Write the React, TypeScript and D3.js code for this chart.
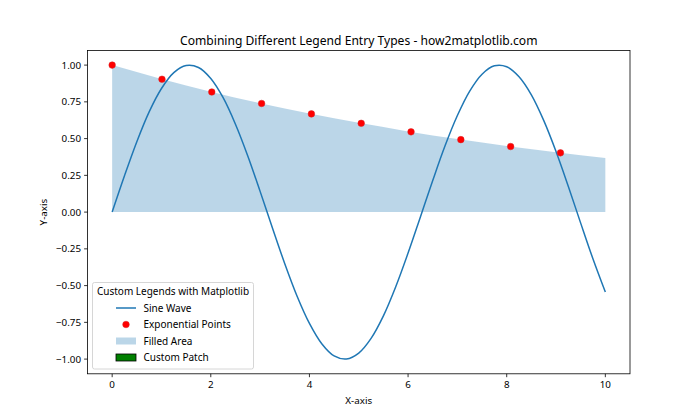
import React from "react";
import * as d3 from "d3";

const sineX = [0,0.25,0.5,0.75,1,1.25,1.5,1.75,2,2.25,2.5,2.75,3,3.25,3.5,3.75,4,4.25,4.5,4.75,5,5.25,5.5,5.75,6,6.25,6.5,6.75,7,7.25,7.5,7.75,8,8.25,8.5,8.75,9,9.25,9.5,9.75,10];
const sineY = [0,0.247,0.479,0.682,0.841,0.949,0.997,0.984,0.909,0.778,0.598,0.382,0.141,-0.108,-0.351,-0.572,-0.757,-0.895,-0.978,-0.999,-0.959,-0.859,-0.706,-0.508,-0.279,-0.033,0.215,0.451,0.657,0.823,0.938,0.995,0.989,0.921,0.798,0.624,0.412,0.174,-0.075,-0.319,-0.544];

const fillX = [0,1,2,3,4,5,6,7,8,9,10];
const fillY = [1,0.905,0.819,0.741,0.670,0.607,0.549,0.497,0.449,0.407,0.368];

const pointX = [0,1.01,2.02,3.03,4.04,5.05,6.06,7.07,8.08,9.09];
const pointY = [1,0.904,0.817,0.739,0.668,0.604,0.546,0.493,0.446,0.403];

const xTicks = [0,2,4,6,8,10];
const yTicks = [-1,-0.75,-0.5,-0.25,0,0.25,0.5,0.75,1];

const legendLabels = ["Sine Wave","Exponential Points","Filled Area","Custom Patch"];

const W = 700, H = 420;
const L = 87.5, R = 630, T = 50.4, B = 373.8;
const FONT = "'Noto Sans', sans-serif";
const BLUE = "#1f77b4";

export default function App() {
  const x = d3.scaleLinear().domain([-0.5, 10.5]).range([L, R]);
  const y = d3.scaleLinear().domain([-1.1, 1.1]).range([B, T]);
  const line = d3.line<number>().x((_, i) => x(sineX[i])).y((d) => y(d)).curve(d3.curveCatmullRom);
  const area = d3.area<number>().x((_, i) => x(fillX[i])).y0(y(0)).y1((d) => y(d)).curve(d3.curveMonotoneX);

  const lx = 92.5, ly = 282.5, lw = 161, lh = 86.5;
  const rowY = [308, 324.5, 341, 357.5];
  return (
    <svg width={W} height={H} style={{ position: "absolute", left: 0, top: 0 }} fontFamily={FONT}>
      <rect x={0} y={0} width={W} height={H} fill="#fff" />
      <path d={area(fillY) || ""} fill={BLUE} fillOpacity={0.3} />
      <path d={line(sineY) || ""} fill="none" stroke={BLUE} strokeWidth={1.5} />
      {pointX.map((px, i) => (
        <circle key={i} cx={x(px)} cy={y(pointY[i])} r={3.3} fill="#ff0000" stroke="#d62728" strokeWidth={0.5} />
      ))}
      <rect x={L} y={T} width={R - L} height={B - T} fill="none" stroke="#000" strokeWidth={0.8} />
      {xTicks.map((t) => (
        <g key={t}>
          <line x1={x(t)} x2={x(t)} y1={B} y2={B + 3.4} stroke="#000" strokeWidth={0.8} />
          <text x={x(t)} y={B + 14} textAnchor="middle" fontSize={9.8} fill="#000">{t}</text>
        </g>
      ))}
      {yTicks.map((t) => (
        <g key={t}>
          <line x1={L - 3.4} x2={L} y1={y(t)} y2={y(t)} stroke="#000" strokeWidth={0.8} />
          <text x={L - 6.5} y={y(t)} dy="0.35em" textAnchor="end" fontSize={9.8} fill="#000">{d3.format(".2f")(t).replace("-", "\u2212")}</text>
        </g>
      ))}
      <text x={(L + R) / 2} y={404} textAnchor="middle" fontSize={9.8}>X-axis</text>
      <text transform={`translate(47,${(T + B) / 2}) rotate(-90)`} textAnchor="middle" fontSize={9.8}>Y-axis</text>
      <text x={(L + R) / 2} y={44.5} textAnchor="middle" fontSize={12.1}>Combining Different Legend Entry Types - how2matplotlib.com</text>

      <rect x={lx} y={ly} width={lw} height={lh} rx={2} fill="#fff" fillOpacity={0.8} stroke="#cccccc" strokeWidth={0.8} />
      <text x={lx + lw / 2} y={294.5} textAnchor="middle" fontSize={10}>Custom Legends with Matplotlib</text>
      <line x1={116} x2={136} y1={rowY[0]} y2={rowY[0]} stroke={BLUE} strokeWidth={1.5} />
      <circle cx={126} cy={rowY[1]} r={3.3} fill="#ff0000" stroke="#d62728" strokeWidth={0.5} />
      <rect x={116} y={rowY[2] - 3.5} width={20} height={7} fill={BLUE} fillOpacity={0.3} />
      <rect x={116} y={rowY[3] - 3.5} width={20} height={7} fill="#008000" stroke="#000" strokeWidth={0.8} />
      {legendLabels.map((lab, i) => (
        <text key={lab} x={143.5} y={rowY[i]} dy="0.35em" fontSize={10}>{lab}</text>
      ))}
    </svg>
  );
}
